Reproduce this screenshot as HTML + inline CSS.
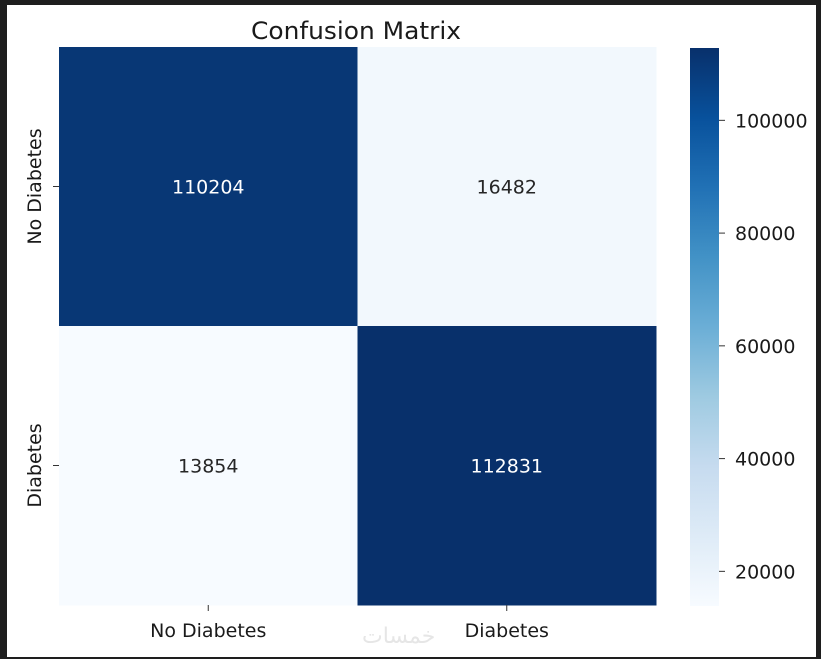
<!DOCTYPE html>
<html><head><meta charset="utf-8"><style>
html,body{margin:0;padding:0;background:#1e1e1e;}
svg{display:block;font-family:"DejaVu Sans","Liberation Sans",sans-serif;}
</style></head><body>
<svg id="chart" width="821" height="659">
<rect x="7" y="5" width="809" height="652" fill="#ffffff"/>
<text x="356" y="39" font-size="24" text-anchor="middle" fill="#1a1a1a" textLength="210" lengthAdjust="spacingAndGlyphs">Confusion Matrix</text>
<defs><linearGradient id="cbg" x1="0" y1="1" x2="0" y2="0">
<stop offset="0" stop-color="#f7fbff"/><stop offset="0.125" stop-color="#deebf7"/><stop offset="0.25" stop-color="#c6dbef"/><stop offset="0.375" stop-color="#9ecae1"/><stop offset="0.5" stop-color="#6baed6"/><stop offset="0.625" stop-color="#4292c6"/><stop offset="0.75" stop-color="#2171b5"/><stop offset="0.875" stop-color="#08519c"/><stop offset="1" stop-color="#08306b"/>
</linearGradient></defs>
<g id="cells"></g>
<g id="cbar"></g>
<text x="362" y="643" font-size="22" fill="#e6e6e6">خمسات</text>
</svg>
<script>
const xLabels=["No Diabetes","Diabetes"];
const yLabels=["No Diabetes","Diabetes"];
const row0=[110204,16482];
const row1=[13854,112831];
const cbTicks=[20000,40000,60000,80000,100000];
const values=[row0,row1];
const NS="http://www.w3.org/2000/svg";
const L=59,T=47,W=597,H=558;
const FS=19;
const all=values.flat();const vmin=Math.min(...all),vmax=Math.max(...all);
const stops=["#f7fbff","#deebf7","#c6dbef","#9ecae1","#6baed6","#4292c6","#2171b5","#08519c","#08306b"].map(h=>[1,3,5].map(i=>parseInt(h.substr(i,2),16)));
function color(v){let t=(v-vmin)/(vmax-vmin);t=Math.max(0,Math.min(1,t))*8;const i=Math.min(7,Math.floor(t)),f=t-i;const c=stops[i].map((a,k)=>Math.round(a+(stops[i+1][k]-a)*f));return `rgb(${c})`;}
function mk(tag,attrs,parent){const e=document.createElementNS(NS,tag);for(const k in attrs)e.setAttribute(k,attrs[k]);parent.appendChild(e);return e;}
const cells=document.getElementById('cells');
const nr=values.length,nc=xLabels.length,cw=W/nc,ch=H/nr;
values.forEach((row,r)=>row.forEach((v,c)=>{
 const rc=mk('rect',{x:L+c*cw,y:T+r*ch,width:cw+0.5,height:ch+0.5,fill:color(v)},cells);
 
 
 const t=mk('text',{x:L+c*cw+cw/2,y:T+r*ch+ch/2+7,'font-size':FS,'text-anchor':'middle',fill:(v-vmin)/(vmax-vmin)>0.5?'#ffffff':'#262626'},cells);
 t.textContent=v;
 
 
}));
xLabels.forEach((lab,i)=>{
 const x=L+i*cw+cw/2;
 const tk=mk('line',{x1:x,x2:x,y1:T+H,y2:T+H+6,stroke:'#333'},cells);
 
 
 const t=mk('text',{x:x,y:T+H+32,'font-size':FS,'text-anchor':'middle',fill:'#1a1a1a'},cells);
 t.textContent=lab;
 
 
});
yLabels.forEach((lab,i)=>{
 const y=T+i*ch+ch/2;
 const tk=mk('line',{x1:L-6,x2:L,y1:y,y2:y,stroke:'#333'},cells);
 
 
 const t=mk('text',{x:0,y:0,'font-size':FS,'text-anchor':'middle',fill:'#1a1a1a',transform:`translate(${L-18},${y}) rotate(-90)`},cells);
 t.textContent=lab;
 
 
});
const cb=document.getElementById('cbar');
const CX=690,CW=29,CT=48,CB=606;
const cr=mk('rect',{x:CX,y:CT,width:CW,height:CB-CT,fill:'url(#cbg)'},cb);


function cy(v){return CB-(v-vmin)/(vmax-vmin)*(CB-CT);}
cbTicks.forEach(v=>{
 const y=cy(v);
 const tk=mk('line',{x1:CX+CW,x2:CX+CW+6,y1:y,y2:y,stroke:'#333'},cb);
 
 
 const t=mk('text',{x:CX+CW+16,y:y+7,'font-size':FS,fill:'#1a1a1a'},cb);
 t.textContent=v;
 
 
});
</script>
</body></html>
